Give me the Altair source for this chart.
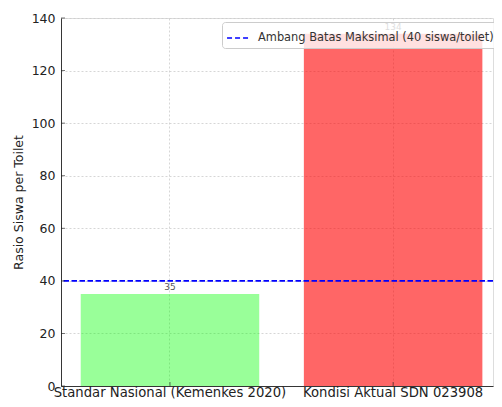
import altair as alt
import pandas as pd

categories = ["Standar Nasional (Kemenkes 2020)", "Kondisi Aktual SDN 023908"]
ratios = [35, 134]
threshold = [40]
threshold_label = ["Ambang Batas Maksimal (40 siswa/toilet)"]
y_ticks = [0, 20, 40, 60, 80, 100, 120, 140]

df = pd.DataFrame({"cat": categories, "ratio": ratios})
df_rule = pd.DataFrame({"y": threshold, "label": threshold_label})
df_ticks = pd.DataFrame({"v": y_ticks})

W, H = 432, 368
FONT = "DejaVu Sans"

xscale = alt.Scale(domain=categories, paddingInner=0.2, paddingOuter=0.068, align=0.65)
yscale = alt.Scale(domain=[0, 140], nice=False)

x_enc = alt.X(
    "cat:N", scale=xscale, sort=categories,
    axis=alt.Axis(title=None, labelAngle=0, labelFontSize=13.2, labelColor="#222",
                  domainColor="#222", domainWidth=0.9, ticks=False, grid=True,
                  gridDash=[2, 2], gridColor="#cccccc", gridWidth=0.8,
                  bandPosition=0.5, labelPadding=0, labelLimit=400, labelFont=FONT),
)
y_enc = alt.Y(
    "ratio:Q", scale=yscale,
    axis=alt.Axis(title="Rasio Siswa per Toilet", values=y_ticks, labelFontSize=12.5,
                  labelColor="#222", labelPadding=6, ticks=False, domainColor="#222",
                  domainWidth=0.9, grid=True, gridDash=[2, 2], gridColor="#cccccc",
                  gridWidth=0.8, titleFontSize=12.5, titleFontWeight="normal",
                  titleColor="#222", titlePadding=6, labelFont=FONT, titleFont=FONT),
)

bars = alt.Chart(df).mark_bar().encode(
    x=x_enc,
    y=y_enc,
    color=alt.Color("cat:N", scale=alt.Scale(domain=categories, range=["#00ff00", "#ff0000"]), legend=None),
    opacity=alt.Opacity("cat:N", scale=alt.Scale(domain=categories, range=[0.4, 0.6]), legend=None),
)

labels = alt.Chart(df).mark_text(dy=-2, baseline="bottom", fontSize=9, color="#555555", font=FONT).encode(
    x=alt.X("cat:N", scale=xscale, sort=categories),
    y=alt.Y("ratio:Q", scale=yscale),
    text="ratio:Q",
)

rule = alt.Chart(df_rule).mark_rule(strokeDash=[5.5, 2.5], strokeWidth=1.6).encode(
    y=alt.Y("y:Q", scale=yscale),
    color=alt.Color("label:N", scale=alt.Scale(range=["#0000ff"]),
                    legend=alt.Legend(title=None, orient="none", legendX=161, legendY=4,
                                      symbolType="stroke", symbolDash=[5, 3],
                                      symbolStrokeWidth=1.6, symbolSize=480,
                                      symbolStrokeColor="#0000ff",
                                      labelFontSize=11.4, labelColor="#333", labelFont=FONT,
                                      labelLimit=400, labelOffset=8,
                                      fillColor="rgba(255,255,255,0.8)", strokeColor="#cccccc",
                                      cornerRadius=3, padding=4)),
)

yticks = alt.Chart(df_ticks).mark_tick(orient="horizontal", size=4, thickness=0.9, color="#222").encode(
    y=alt.Y("v:Q", scale=yscale), x=alt.value(2),
)
xticks = alt.Chart(df).mark_tick(orient="vertical", size=4, thickness=0.9, color="#222").encode(
    x=alt.X("cat:N", scale=xscale, sort=categories), y=alt.value(H - 2),
)

chart = (
    alt.layer(bars, labels, rule, yticks, xticks)
    .resolve_scale(color="independent", opacity="independent")
    .properties(width=W, height=H, autosize=alt.AutoSizeParams(type="none"),
                padding={"left": 53, "top": 10, "right": 1, "bottom": 13})
    .configure_view(stroke=None)
    .configure(font=FONT)
)

chart.save("out.html", embed_options={"renderer": "svg", "actions": False})
